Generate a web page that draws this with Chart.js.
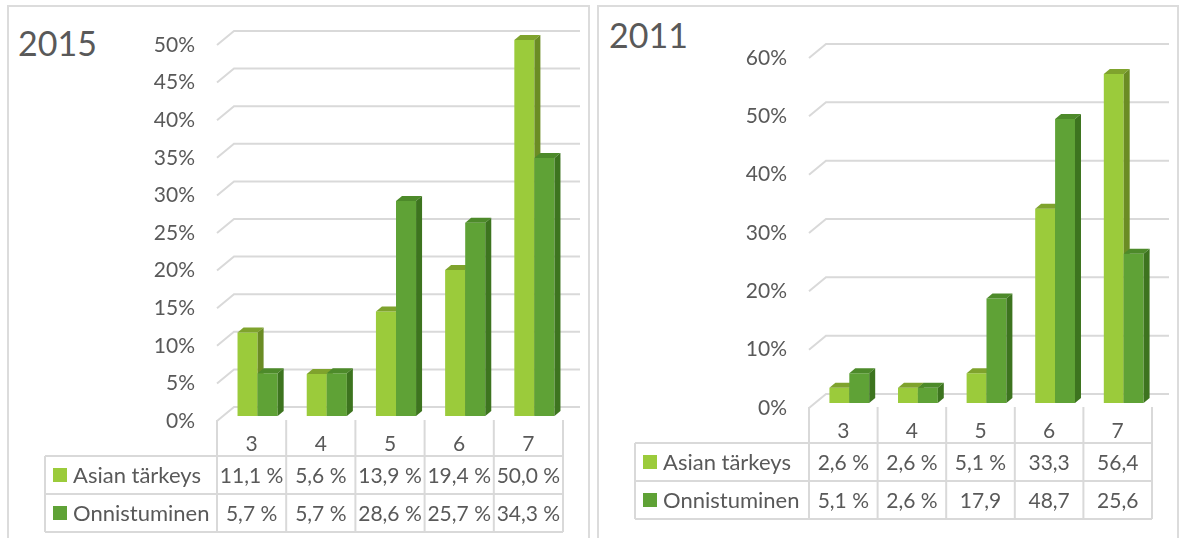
<!DOCTYPE html>
<html>
<head>
<meta charset="utf-8">
<script src="https://cdn.jsdelivr.net/npm/chart.js"></script>
<style>
body { margin: 0; background: #fff; width: 1181px; height: 538px; overflow: hidden; font-family: Lato, sans-serif; }
.panel { position: absolute; top: 5px; height: 600px; border: 2px solid #dcdcdc; box-sizing: border-box; }
#p1 { left: 7px; width: 583px; }
#p2 { left: 597px; width: 582px; }
.title { position: absolute; color: #595959; font-size: 34px; line-height: 34px; }
canvas { position: absolute; }
#c1 { left: 8px; top: 5px; }
#c2 { left: 598px; top: 5px; }
</style>
</head>
<body>
<div class="panel" id="p1"></div>
<div class="panel" id="p2"></div>
<div class="title" style="left:18px;top:26px">2015</div>
<div class="title" style="left:609px;top:18px">2011</div>
<canvas id="c1" width="581" height="533"></canvas>
<canvas id="c2" width="580" height="533"></canvas>
<script>
// data
var categories = ['3', '4', '5', '6', '7'];
var seriesNames = ['Asian tärkeys', 'Onnistuminen'];

var asia2015 = [11.1, 5.6, 13.9, 19.4, 50.0];
var onni2015 = [5.7, 5.7, 28.6, 25.7, 34.3];
var asiaText2015 = ['11,1 %', '5,6 %', '13,9 %', '19,4 %', '50,0 %'];
var onniText2015 = ['5,7 %', '5,7 %', '28,6 %', '25,7 %', '34,3 %'];

var asia2011 = [2.6, 2.6, 5.1, 33.3, 56.4];
var onni2011 = [5.1, 2.6, 17.9, 48.7, 25.6];
var asiaText2011 = ['2,6 %', '2,6 %', '5,1 %', '33,3', '56,4'];
var onniText2011 = ['5,1 %', '2,6 %', '17,9', '48,7', '25,6'];

Chart.defaults.font.family = 'Lato, sans-serif';

var TXT = '#595959';
var LINE = '#d9d9d9';
var DX = 6, DY = 5, SHIFT = 6;

function line(ctx, x1, y1, x2, y2) {
    ctx.beginPath();
    ctx.moveTo(x1, y1);
    ctx.lineTo(x2, y2);
    ctx.stroke();
}

function drawFaces(ctx, ds, bar) {
    var p = bar.getProps(['x', 'y', 'base', 'width'], true);
    var l = p.x - p.width / 2, r = p.x + p.width / 2;
    ctx.fillStyle = ds.topColor;
    ctx.beginPath();
    ctx.moveTo(l, p.y);
    ctx.lineTo(l + DX, p.y - DY);
    ctx.lineTo(r + DX, p.y - DY);
    ctx.lineTo(r, p.y);
    ctx.closePath();
    ctx.fill();
    ctx.fillStyle = ds.sideColor;
    ctx.beginPath();
    ctx.moveTo(r, p.y);
    ctx.lineTo(r + DX, p.y - DY);
    ctx.lineTo(r + DX, p.base - DY);
    ctx.lineTo(r, p.base);
    ctx.closePath();
    ctx.fill();
}

// fake 3d look + data table under the plot
var threeD = {
    id: 'threeD',
    beforeDraw: function (chart) {
        var ctx = chart.ctx, ca = chart.chartArea, y = chart.scales.y;
        ctx.save();
        ctx.strokeStyle = LINE;
        ctx.lineWidth = 2;
        y.ticks.forEach(function (t) {
            var py = y.getPixelForValue(t.value);
            ctx.beginPath();
            ctx.moveTo(ca.left, py + 5);
            ctx.lineTo(ca.left + 17, py - 9);
            ctx.lineTo(ca.right + 17, py - 9);
            ctx.stroke();
        });
        ctx.restore();
    },
    beforeDatasetsDraw: function (chart) {
        // bars are drawn below, in series order, so the right bar covers the left one's side
        return false;
    },
    afterDraw: function (chart) {
        var ctx = chart.ctx, ca = chart.chartArea, x = chart.scales.x;
        ctx.save();
        ctx.translate(SHIFT, 0);
        chart.data.datasets.forEach(function (ds, k) {
            chart.getDatasetMeta(k).data.forEach(function (bar) {
                bar.draw(ctx);
                drawFaces(ctx, ds, bar);
            });
        });
        ctx.restore();

        var n = chart.data.labels.length;
        var cw = (ca.right - ca.left) / n;
        var b = ca.bottom;
        var rows = [b + 40, b + 78, b + 116];
        var legL = 37;
        ctx.save();
        ctx.strokeStyle = LINE;
        ctx.lineWidth = 2;
        rows.forEach(function (yy) { line(ctx, legL, yy, ca.right, yy); });
        line(ctx, legL, rows[0], legL, rows[2]);
        for (var i = 0; i <= n; i++) {
            line(ctx, ca.left + i * cw, b + 4, ca.left + i * cw, rows[2]);
        }
        ctx.font = '21px Lato, sans-serif';
        ctx.textBaseline = 'middle';
        ctx.textAlign = 'center';
        ctx.fillStyle = TXT;
        chart.data.labels.forEach(function (lab, i) {
            var cx = x.getPixelForValue(i);
            ctx.fillText(lab, cx, b + 28);
            chart.data.datasets.forEach(function (ds, k) {
                ctx.fillText(ds.cells[i], cx, (rows[k] + rows[k + 1]) / 2 + 1);
            });
        });
        ctx.textAlign = 'left';
        ctx.font = '22px Lato, sans-serif';
        chart.data.datasets.forEach(function (ds, k) {
            var cy = (rows[k] + rows[k + 1]) / 2;
            ctx.fillStyle = ds.backgroundColor;
            ctx.fillRect(legL + 8, cy - 7, 14, 14);
            ctx.fillStyle = TXT;
            ctx.fillText(ds.label, legL + 28, cy + 1);
        });
        ctx.restore();
    }
};

function makeChart(id, a, b, aText, bText, max, step, yw, pad) {
    return new Chart(document.getElementById(id), {
        type: 'bar',
        data: {
            labels: categories,
            datasets: [
                {
                    label: seriesNames[0], data: a, cells: aText,
                    backgroundColor: '#9bcb3b', topColor: '#7fa32d', sideColor: '#6b8c24',
                    categoryPercentage: 0.58, barPercentage: 1.0
                },
                {
                    label: seriesNames[1], data: b, cells: bText,
                    backgroundColor: '#5fa236', topColor: '#4d8a2a', sideColor: '#3d741f',
                    categoryPercentage: 0.58, barPercentage: 1.0
                }
            ]
        },
        options: {
            responsive: false,
            animation: false,
            layout: { padding: pad },
            plugins: { legend: { display: false }, tooltip: { enabled: false } },
            scales: {
                x: { display: false },
                y: {
                    min: 0, max: max,
                    grid: { display: false },
                    border: { display: false },
                    ticks: {
                        stepSize: step, labelOffset: 5, padding: 14, color: TXT,
                        font: { size: 21 },
                        callback: function (v) { return v + '%'; }
                    },
                    afterFit: function (s) { s.width = yw; }
                }
            }
        },
        plugins: [threeD]
    });
}

makeChart('c1', asia2015, onni2015, asiaText2015, onniText2015, 50, 5, 209,
    { left: 0, top: 35, right: 26, bottom: 122 });
makeChart('c2', asia2011, onni2011, asiaText2011, onniText2011, 60, 10, 211,
    { left: 0, top: 48, right: 26, bottom: 135 });
</script>
</body>
</html>
